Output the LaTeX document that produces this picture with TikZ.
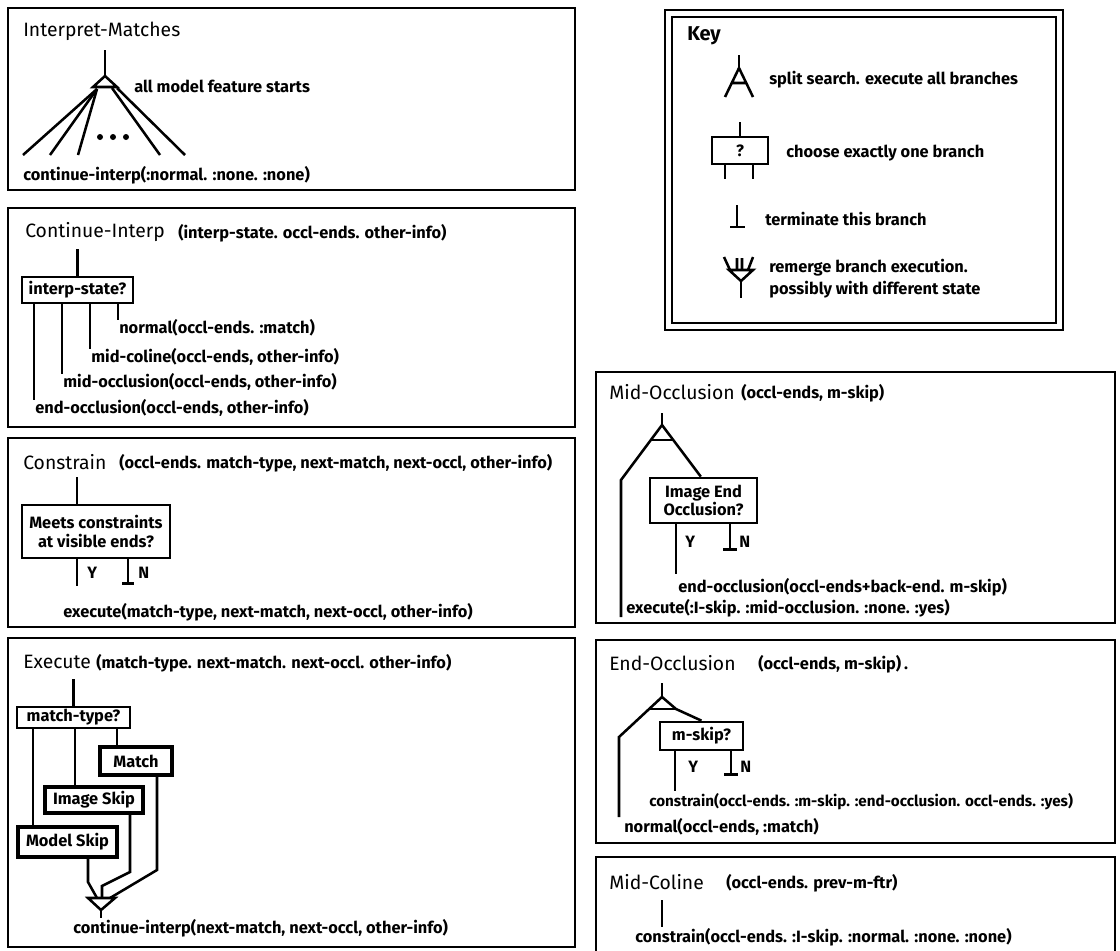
\documentclass[tikz,border=0pt]{standalone}
\usepackage{fontspec}
\setmainfont{Fira Sans}
\usepackage{tikz}
\usetikzlibrary{positioning}

\begin{document}
\begin{tikzpicture}[x=0.75pt,y=0.75pt,yscale=-1,xscale=1,
  panel/.style={line width=1.6pt},
  wire/.style={line width=1.9pt},
  ttl/.style={anchor=west,inner sep=0.75pt,font=\fontsize{14.5}{16}\selectfont},
  lbl/.style={anchor=west,inner sep=0.75pt,font=\bfseries\fontsize{12.3}{14}\selectfont},
  qbox/.style={draw,line width=2pt,inner sep=0.5pt,align=center,font=\bfseries\fontsize{12.3}{14}\selectfont},
  cbox/.style={qbox,line width=3pt}
]
\useasboundingbox (0,0) rectangle (1120,950);

%Interpret-Matches
\draw[panel] (8,8) rectangle (575,190);
\draw (22,31) node[ttl] (imT) {Interpret-Matches};
\coordinate (imTop) at (105,50);
\coordinate (imS) at (105,76);
\draw[wire] (imTop) -- (imS);
\draw[wire] (imS) -- ++(-12,11) -- ++(24,0) -- cycle;
\foreach \e in {23,50,78} \draw[wire] (imS) ++(-8,13) -- (\e,155);
\foreach \e/\o in {160/7,185/12} \draw[wire] (imS) ++(\o,12) -- (\e,155);
\foreach \d in {100,113,126} \fill (\d,137) circle (3);
% Text Node
\draw (133,86) node[lbl] (imAll) {all model feature starts};
% Text Node
\draw (22,175) node[lbl] (imCall) {continue-interp(:normal. :none. :none)};

%Continue-Interp
\draw[panel] (8,208) rectangle (575,427);
\draw (24,232) node[ttl] (ciT) {Continue-Interp};
\draw (177,233) node[lbl] (ciA) {(interp-state. occl-ends. other-info)};
\draw (77.5,290) node[qbox,minimum width=83.25pt,minimum height=19.5pt] (ciQ) {interp-state?};
\draw[wire] (ciQ.north) -- ++(0,-27);
\draw (118,328) node[lbl] (ciN) {normal(occl-ends. :match)};
\draw (90,357) node[lbl] (ciC) {mid-coline(occl-ends, other-info)};
\draw (62,382) node[lbl] (ciM) {mid-occlusion(occl-ends, other-info)};
\draw (34,408) node[lbl] (ciE) {end-occlusion(occl-ends, other-info)};
\foreach \n in {ciN,ciC,ciM,ciE}
  \draw[wire] (ciQ.south -| \n.west) -- ([yshift=1pt]\n.north west);

%Constrain
\draw[panel] (8,438) rectangle (575,627);
\draw (22,462) node[ttl] (coT) {Constrain};
\draw (118,463) node[lbl] (coA) {(occl-ends. match-type, next-match, next-occl, other-info)};
\draw (96,531.5) node[qbox,minimum width=111pt,minimum height=39.75pt] (coQ) {Meets constraints\\at visible ends?};
\draw[wire] (coQ.north) ++(-19,0) -- ++(0,-27);
\draw[wire] (coQ.south) ++(-19,0) -- ++(0,27);
\draw[wire] (coQ.south) ++(32,0) -- ++(0,24) ++(-6,0) -- ++(12,0);
\draw (86,573) node[lbl] (coY) {Y};
\draw (137,573) node[lbl] (coN) {N};
\draw (62,612) node[lbl] (coX) {execute(match-type, next-match, next-occl, other-info)};

%Execute
\draw[panel] (8,638) rectangle (575,947);
\draw (22,662) node[ttl] (exT) {Execute};
\draw (95,663) node[lbl] (exA) {(match-type. next-match. next-occl. other-info)};
\draw (73.5,717.5) node[qbox,minimum width=84.75pt,minimum height=15.75pt] (exQ) {match-type?};
\draw (136,761) node[cbox,minimum width=54pt,minimum height=21pt] (exM) {Match};
\draw (94,800) node[cbox,minimum width=73.5pt,minimum height=19.5pt] (exI) {Image Skip};
\draw (67.5,842) node[cbox,minimum width=74.25pt,minimum height=22.5pt] (exK) {Model Skip};
\draw[wire] (exQ.north) -- ++(0,-27);
\draw[wire] (exQ.south) ++(-40.5,0) coordinate (b1) -- (b1 |- exK.north);
\draw[wire] (exQ.south) ++(1.5,0) coordinate (b2) -- (b2 |- exI.north);
\draw[wire] (exQ.south) ++(43.5,0) coordinate (b3) -- (b3 |- exM.north);
\coordinate (exJ) at (101,910);
\draw[wire] (exJ) -- ++(-13,-12) -- ++(27,0) -- cycle;
\draw[wire] (exK.south) ++(20.5,0) -- ++(0,23) -- (97,898);
\draw[wire] (exI.south) ++(36,0) -- ++(0,57) -- (102,886) -- (102,898);
\draw[wire] (exM.south) ++(21,0) -- ++(0,93) -- (110,898);
\draw (72,928) node[lbl] (exC) {continue-interp(next-match, next-occl, other-info)};
\draw[wire] (exJ) -- (exJ |- exC.north);

%Key
\draw[line width=1.2pt] (665,10) rectangle (1063,330);
\draw[line width=1.2pt] (672,17) rectangle (1056,323);
\draw (686,36) node[ttl,font=\bfseries\fontsize{15}{17}\selectfont] (kT) {Key};
\coordinate (kS) at (739,68);
\draw[wire] (kS) -- ++(0,-13);
\draw[wire] (kS) -- (725,97) (kS) -- (753,97) (731,83) -- (747,83);
\draw (768,80) node[lbl] (kS1) {split search. execute all branches};
\draw (740,150.5) node[qbox,line width=1.6pt,minimum width=42pt,minimum height=20.25pt] (kQ) {?};
\draw[wire] (kQ.north) -- ++(0,-14);
\draw[wire] (kQ.south) ++(-15,0) -- ++(0,14);
\draw[wire] (kQ.south) ++(13,0) -- ++(0,14);
\draw (785,153) node[lbl] (kS2) {choose exactly one branch};
\draw[wire] (737,205) -- (737,227) (730,227) -- (745,227);
\draw (764,219) node[lbl] (kS3) {terminate this branch};
\coordinate (kM) at (741,281);
\draw[wire] (kM) -- ++(-12,-11) -- ++(24,0) -- cycle;
\draw[wire] (kM) -- ++(0,17);
\draw[wire] (724,257) -- (730,270) (753,257) -- (748,270) (737,258) -- (737,270) (742,258) -- (742,270);
\draw (768,268) node[lbl] (kS4) {remerge branch execution.};
\draw (768,290) node[lbl] (kS5) {possibly with different state};

%Mid-Occlusion
\draw[panel] (596,372) rectangle (1115,623);
\draw (608,392) node[ttl] (moT) {Mid-Occlusion};
\draw (740,393) node[lbl] (moA) {(occl-ends, m-skip)};
\draw (703.5,500.5) node[qbox,minimum width=80.25pt,minimum height=33.75pt] (moQ) {Image End\\Occlusion?};
\coordinate (moS) at (662,425);
\draw[wire] (moS) -- ++(0,-12);
\draw[wire] (moS) -- ([xshift=-2pt]moQ.north);
\draw[wire] (moS) -- (621,480) -- (621,617);
\draw[wire] (651,440) -- (673,440);
\draw[wire] (moQ.south) ++(-27.5,0) -- ++(0,50);
\draw[wire] (moQ.south) ++(26.5,0) -- ++(0,25) ++(-7,0) -- ++(14,0);
\draw (684,542) node[lbl] (moY) {Y};
\draw (738,542) node[lbl] (moN) {N};
\draw (677,587) node[lbl] (moE) {end-occlusion(occl-ends+back-end. m-skip)};
\draw (625,608) node[lbl] (moX) {execute(:I-skip. :mid-occlusion. :none. :yes)};

%End-Occlusion
\draw[panel] (596,640) rectangle (1115,843);
\draw (608,663) node[ttl] (eoT) {End-Occlusion};
\draw (757,664) node[lbl] (eoA) {(occl-ends, m-skip)\,.};
\draw (701.5,736) node[qbox,minimum width=62.25pt,minimum height=21pt] (eoQ) {m-skip?};
\coordinate (eoS) at (662,697);
\draw[wire] (eoS) -- ++(0,-14);
\draw[wire] (eoS) -- (676,709) -- (eoQ.north);
\draw[wire] (eoS) -- (619,737) -- (619,817);
\draw[wire] (650,709) -- (676,709);
\draw[wire] (eoQ.south) ++(-26.5,0) -- ++(0,40);
\draw[wire] (eoQ.south) ++(29.5,0) -- ++(0,23) ++(-7,0) -- ++(14,0);
\draw (687,767) node[lbl] (eoY) {Y};
\draw (739,767) node[lbl] (eoN) {N};
\draw (648,802) node[lbl,font=\bfseries\fontsize{11.4}{13}\selectfont] (eoC) {constrain(occl-ends. :m-skip. :end-occlusion. occl-ends. :yes)};
\draw (623,827) node[lbl] (eoX) {normal(occl-ends, :match)};

%Mid-Coline
\draw[panel] (596,951) -- (596,857) -- (1115,857) -- (1115,951);
\draw (608,882) node[ttl] (mcT) {Mid-Coline};
\draw (725,883) node[lbl] (mcA) {(occl-ends. prev-m-ftr)};
\draw (634,937) node[lbl] (mcC) {constrain(occl-ends. :I-skip. :normal. :none. :none)};
\draw[wire] (662,900) -- (mcC.north -| 662,0);

\end{tikzpicture}
\end{document}
